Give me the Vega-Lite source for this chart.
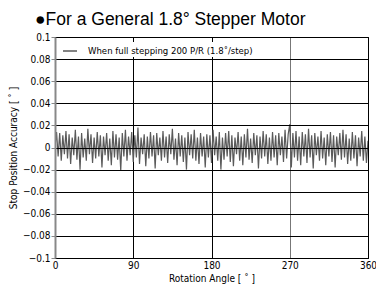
{
  "$schema": "https://vega.github.io/schema/vega-lite/v6.json",
  "autosize": "none",
  "width": 313,
  "height": 221,
  "padding": {"left": 55, "top": 37, "right": 8, "bottom": 33},
  "background": "white",
  "title": {
    "text": "●For a General 1.8° Stepper Motor",
    "anchor": "start",
    "frame": "group",
    "dx": -20,
    "dy": 24,
    "baseline": "alphabetic",
    "offset": 14,
    "font": "Liberation Sans",
    "fontSize": 17.5,
    "fontWeight": "normal",
    "color": "black"
  },
  "config": {
    "view": {"stroke": "black", "strokeWidth": 1},
    "font": "Liberation Sans Narrow, DejaVu Sans Condensed, Roboto, sans-serif",
    "axis": {
      "labelFont": "Liberation Sans Narrow, DejaVu Sans Condensed, Roboto, sans-serif",
      "titleFont": "Liberation Sans Narrow, DejaVu Sans Condensed, Roboto, sans-serif",
      "labelFontSize": 10,
      "titleFontSize": 10,
      "labelColor": "black",
      "titleColor": "black",
      "titleFontWeight": "normal",
      "gridColor": "black",
      "gridOpacity": 1,
      "gridWidth": 1
    }
  },
  "data": {"values": [
    {"a":0,"v":0},{"a":1.8,"v":0.014},{"a":3.6,"v":-0.008},{"a":5.4,"v":0.013},{"a":7.2,"v":-0.012},{"a":9,"v":0.011},{"a":10.8,"v":-0.006},{"a":12.6,"v":0.015},{"a":14.4,"v":-0.010},{"a":16.2,"v":0.012},
    {"a":18,"v":-0.015},{"a":19.8,"v":0.009},{"a":21.6,"v":-0.007},{"a":23.4,"v":0.016},{"a":25.2,"v":-0.011},{"a":27,"v":0.010},{"a":28.8,"v":-0.020},{"a":30.6,"v":0.013},{"a":32.4,"v":-0.009},{"a":34.2,"v":0.008},
    {"a":36,"v":-0.012},{"a":37.8,"v":0.017},{"a":39.6,"v":-0.006},{"a":41.4,"v":0.012},{"a":43.2,"v":-0.014},{"a":45,"v":0.009},{"a":46.8,"v":-0.010},{"a":48.6,"v":0.014},{"a":50.4,"v":-0.008},{"a":52.2,"v":0.011},
    {"a":54,"v":-0.018},{"a":55.8,"v":0.010},{"a":57.6,"v":-0.007},{"a":59.4,"v":0.013},{"a":61.2,"v":-0.012},{"a":63,"v":0.008},{"a":64.8,"v":-0.016},{"a":66.6,"v":0.015},{"a":68.4,"v":-0.009},{"a":70.2,"v":0.012},
    {"a":72,"v":-0.011},{"a":73.8,"v":0.009},{"a":75.6,"v":-0.021},{"a":77.4,"v":0.013},{"a":79.2,"v":-0.008},{"a":81,"v":0.016},{"a":82.8,"v":-0.012},{"a":84.6,"v":0.010},{"a":86.4,"v":-0.007},{"a":88.2,"v":0.014},
    {"a":90,"v":-0.013},{"a":91.8,"v":0.011},{"a":93.6,"v":-0.009},{"a":95.4,"v":0.018},{"a":97.2,"v":-0.015},{"a":99,"v":0.009},{"a":100.8,"v":-0.006},{"a":102.6,"v":0.012},{"a":104.4,"v":-0.017},{"a":106.2,"v":0.010},
    {"a":108,"v":-0.010},{"a":109.8,"v":0.014},{"a":111.6,"v":-0.008},{"a":113.4,"v":0.011},{"a":115.2,"v":-0.019},{"a":117,"v":0.013},{"a":118.8,"v":-0.007},{"a":120.6,"v":0.009},{"a":122.4,"v":-0.012},{"a":124.2,"v":0.015},
    {"a":126,"v":-0.009},{"a":127.8,"v":0.010},{"a":129.6,"v":-0.014},{"a":131.4,"v":0.012},{"a":133.2,"v":-0.006},{"a":135,"v":0.017},{"a":136.8,"v":-0.011},{"a":138.6,"v":0.008},{"a":140.4,"v":-0.016},{"a":142.2,"v":0.013},
    {"a":144,"v":-0.008},{"a":145.8,"v":0.011},{"a":147.6,"v":-0.013},{"a":149.4,"v":0.009},{"a":151.2,"v":-0.020},{"a":153,"v":0.014},{"a":154.8,"v":-0.007},{"a":156.6,"v":0.012},{"a":158.4,"v":-0.010},{"a":160.2,"v":0.016},
    {"a":162,"v":-0.012},{"a":163.8,"v":0.009},{"a":165.6,"v":-0.015},{"a":167.4,"v":0.013},{"a":169.2,"v":-0.008},{"a":171,"v":0.010},{"a":172.8,"v":-0.018},{"a":174.6,"v":0.012},{"a":176.4,"v":-0.009},{"a":178.2,"v":0.011},
    {"a":180,"v":-0.014},{"a":181.8,"v":0.016},{"a":183.6,"v":-0.007},{"a":185.4,"v":0.010},{"a":187.2,"v":-0.012},{"a":189,"v":0.014},{"a":190.8,"v":-0.020},{"a":192.6,"v":0.009},{"a":194.4,"v":-0.011},{"a":196.2,"v":0.013},
    {"a":198,"v":-0.008},{"a":199.8,"v":0.015},{"a":201.6,"v":-0.013},{"a":203.4,"v":0.011},{"a":205.2,"v":-0.017},{"a":207,"v":0.009},{"a":208.8,"v":-0.006},{"a":210.6,"v":0.014},{"a":212.4,"v":-0.012},{"a":214.2,"v":0.010},
    {"a":216,"v":-0.016},{"a":217.8,"v":0.012},{"a":219.6,"v":-0.009},{"a":221.4,"v":0.017},{"a":223.2,"v":-0.011},{"a":225,"v":0.008},{"a":226.8,"v":-0.014},{"a":228.6,"v":0.013},{"a":230.4,"v":-0.007},{"a":232.2,"v":0.011},
    {"a":234,"v":-0.019},{"a":235.8,"v":0.010},{"a":237.6,"v":-0.010},{"a":239.4,"v":0.015},{"a":241.2,"v":-0.008},{"a":243,"v":0.012},{"a":244.8,"v":-0.015},{"a":246.6,"v":0.009},{"a":248.4,"v":-0.012},{"a":250.2,"v":0.014},
    {"a":252,"v":-0.009},{"a":253.8,"v":0.011},{"a":255.6,"v":-0.016},{"a":257.4,"v":0.013},{"a":259.2,"v":-0.007},{"a":261,"v":0.010},{"a":262.8,"v":-0.013},{"a":264.6,"v":0.016},{"a":266.4,"v":-0.010},{"a":268.2,"v":0.012},
    {"a":270,"v":0.021},{"a":271.8,"v":-0.018},{"a":273.6,"v":0.013},{"a":275.4,"v":-0.009},{"a":277.2,"v":0.015},{"a":279,"v":-0.012},{"a":280.8,"v":0.010},{"a":282.6,"v":-0.016},{"a":284.4,"v":0.014},{"a":286.2,"v":-0.008},
    {"a":288,"v":0.012},{"a":289.8,"v":-0.014},{"a":291.6,"v":0.017},{"a":293.4,"v":-0.009},{"a":295.2,"v":0.011},{"a":297,"v":-0.019},{"a":298.8,"v":0.013},{"a":300.6,"v":-0.007},{"a":302.4,"v":0.010},{"a":304.2,"v":-0.012},
    {"a":306,"v":0.015},{"a":307.8,"v":-0.010},{"a":309.6,"v":0.009},{"a":311.4,"v":-0.016},{"a":313.2,"v":0.012},{"a":315,"v":-0.008},{"a":316.8,"v":0.014},{"a":318.6,"v":-0.013},{"a":320.4,"v":0.011},{"a":322.2,"v":-0.018},
    {"a":324,"v":0.010},{"a":325.8,"v":-0.007},{"a":327.6,"v":0.013},{"a":329.4,"v":-0.011},{"a":331.2,"v":0.016},{"a":333,"v":-0.009},{"a":334.8,"v":0.012},{"a":336.6,"v":-0.015},{"a":338.4,"v":0.008},{"a":340.2,"v":-0.012},
    {"a":342,"v":0.014},{"a":343.8,"v":-0.010},{"a":345.6,"v":0.011},{"a":347.4,"v":-0.017},{"a":349.2,"v":0.009},{"a":351,"v":-0.008},{"a":352.8,"v":0.015},{"a":354.6,"v":-0.012},{"a":356.4,"v":0.010},{"a":358.2,"v":-0.014},
    {"a":360,"v":0.006}
  ]},
  "mark": {"type": "line", "strokeWidth": 1.2, "clip": true},
  "encoding": {
    "x": {
      "field": "a",
      "type": "quantitative",
      "scale": {"domain": [0, 360], "nice": false},
      "axis": {
        "values": [0, 90, 180, 270, 360],
        "title": "Rotation Angle [ ˚ ]",
        "titlePadding": 3,
        "labelPadding": 2,
        "tickSize": 0,
        "ticks": false,
        "domainColor": "black",
        "labelFlush": false,
        "gridColor": {"condition": {"test": "datum.value === 270", "value": "#777"}, "value": "black"}
      }
    },
    "y": {
      "field": "v",
      "type": "quantitative",
      "scale": {"domain": [-0.1, 0.1], "nice": false},
      "axis": {
        "values": [-0.1, -0.08, -0.06, -0.04, -0.02, 0, 0.02, 0.04, 0.06, 0.08, 0.1],
        "format": "~g",
        "title": "Stop Position Accuracy [ ˚ ]",
        "titlePadding": 4,
        "labelPadding": 1,
        "tickSize": 4,
        "tickColor": "#888",
        "domainColor": "#888",
        "domainWidth": 2,
        "zindex": 1
      }
    },
    "color": {
      "datum": "When full stepping 200 P/R (1.8˚/step)",
      "type": "nominal",
      "scale": {"range": ["#5a5a5a"]},
      "legend": {
        "title": null,
        "orient": "none",
        "legendX": 6,
        "legendY": 5,
        "symbolType": "stroke",
        "symbolSize": 196,
        "symbolStrokeWidth": 1.5,
        "labelFont": "Liberation Sans Narrow, DejaVu Sans Condensed, Roboto, sans-serif",
        "labelFontSize": 9.5,
        "labelColor": "black",
        "labelLimit": 300,
        "labelOffset": 10,
        "fillColor": "white",
        "padding": 1
      }
    }
  }
}
